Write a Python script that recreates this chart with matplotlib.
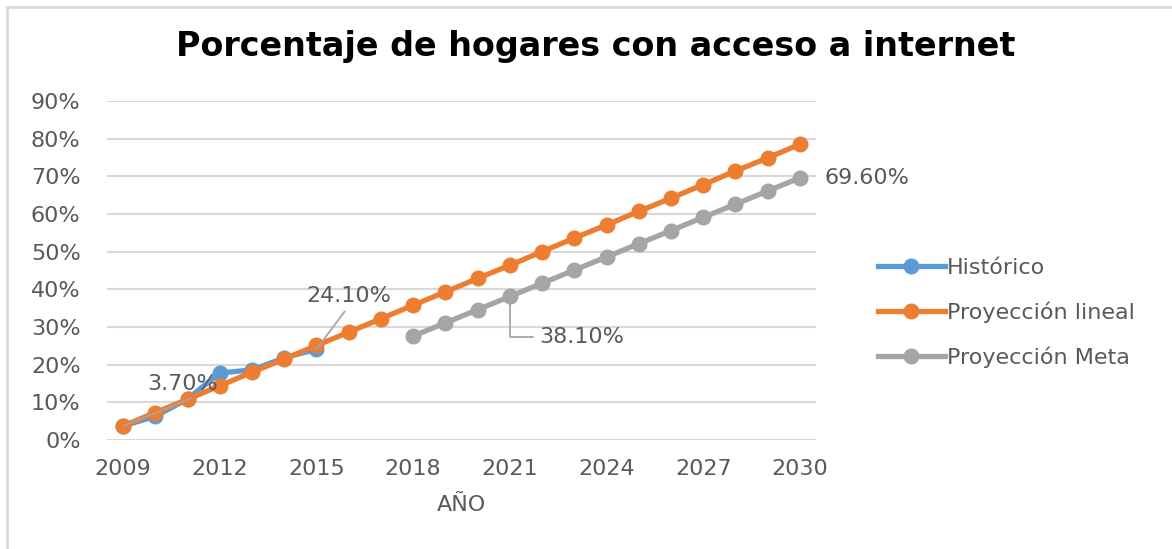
import matplotlib
matplotlib.use("Agg")
import matplotlib.pyplot as plt
from matplotlib.patches import Rectangle

plt.rcParams["font.family"] = ["DejaVu Sans"]

TEXT_GREY = "#595959"
GRID_GREY = "#d9d9d9"

years_hist = [2009, 2010, 2011, 2012, 2013, 2014, 2015]
hist_values = [3.7, 6.3, 10.9, 17.8, 18.6, 21.8, 24.1]

years_lineal = list(range(2009, 2031))
lineal_values = [3.7, 7.3, 10.8, 14.4, 18.0, 21.5, 25.1, 28.6, 32.2, 35.8, 39.3,
                 42.9, 46.4, 50.0, 53.6, 57.1, 60.7, 64.2, 67.8, 71.4, 74.9, 78.5]

years_meta = list(range(2018, 2031))
meta_values = [27.6, 31.1, 34.6, 38.1, 41.6, 45.1, 48.6, 52.1, 55.6, 59.1,
               62.6, 66.1, 69.6]

x_ticks = [2009, 2012, 2015, 2018, 2021, 2024, 2027, 2030]
y_ticks = [0, 10, 20, 30, 40, 50, 60, 70, 80, 90]

fig = plt.figure(figsize=(11.72, 5.49), dpi=100)
ax = fig.add_axes([107 / 1172, 1 - 440 / 549, (816 - 107) / 1172, (440 - 101) / 549])

# marco gris del gráfico
fig.patches.append(Rectangle((7 / 1172, -0.1), 1.2, 1.1 - 7 / 549,
                             transform=fig.transFigure, fill=False,
                             edgecolor=GRID_GREY, linewidth=2))

line_kw = dict(linewidth=3.8, marker="o", markersize=10.5)
ax.plot(years_hist, hist_values, color="#5B9BD5", label="Histórico", **line_kw)
ax.plot(years_lineal, lineal_values, color="#ED7D31", label="Proyección lineal", **line_kw)
ax.plot(years_meta, meta_values, color="#A5A5A5", label="Proyección Meta", **line_kw)

ax.set_xlim(2008.5, 2030.5)
ax.set_ylim(0, 90)
ax.set_xticks(x_ticks)
ax.set_yticks(y_ticks)
ax.set_yticklabels([f"{v}%" for v in y_ticks])
ax.tick_params(length=0, labelsize=16, labelcolor=TEXT_GREY)
ax.tick_params(axis="y", pad=19)
ax.tick_params(axis="x", pad=14)
ax.grid(axis="y", color=GRID_GREY, linewidth=1.5)
ax.set_axisbelow(True)
for spine in ax.spines.values():
    spine.set_visible(False)

ax.set_xlabel("AÑO", fontsize=16, color=TEXT_GREY, labelpad=11)
fig.suptitle("Porcentaje de hogares con acceso a internet", x=596 / 1172, y=1 - 47 / 549,
             va="center", fontsize=24, fontweight="bold", color="black")

label_kw = dict(fontsize=16, color=TEXT_GREY, textcoords="offset points")
leader = dict(arrowstyle="-", color="#A5A5A5", linewidth=1.3, shrinkA=2, shrinkB=0)
ax.annotate("3.70%", xy=(years_hist[0], hist_values[0]), xytext=(43, 30),
            ha="center", va="center", arrowprops=dict(leader, relpos=(0.75, 0)),
            **label_kw)
ax.annotate("24.10%", xy=(years_hist[-1], hist_values[-1]), xytext=(23, 38),
            ha="center", va="center", arrowprops=dict(leader, relpos=(0.5, 0)),
            **label_kw)
ax.annotate("38.10%", xy=(years_meta[3], meta_values[3]), xytext=(21, -29),
            ha="left", va="center",
            arrowprops=dict(leader, connectionstyle="angle,angleA=0,angleB=90,rad=0"),
            **label_kw)
ax.annotate("69.60%", xy=(years_meta[-1], meta_values[-1]), xytext=(18, 0),
            ha="left", va="center", **label_kw)

ax.legend(loc="center left", bbox_to_anchor=(858 / 1172, 1 - 313 / 549),
          bbox_transform=fig.transFigure, frameon=False, fontsize=16,
          labelcolor=TEXT_GREY, handlelength=3.0, handletextpad=0.1,
          labelspacing=1.05)

fig.savefig("out.png", dpi=100)
